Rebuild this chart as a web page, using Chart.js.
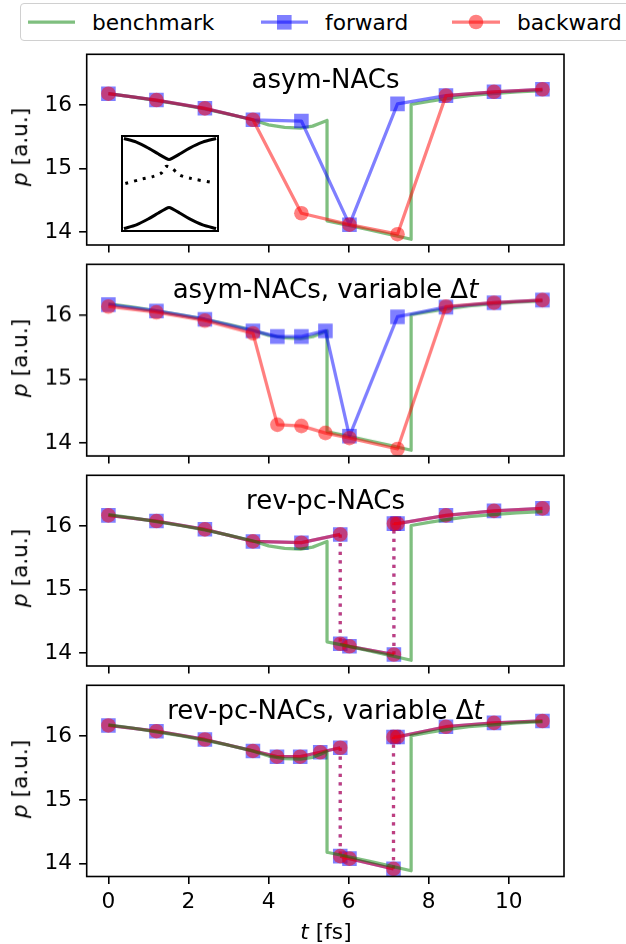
<!DOCTYPE html>
<html>
<head>
<meta charset="utf-8">
<script src="https://cdn.jsdelivr.net/npm/chart.js@4.4.0/dist/chart.umd.min.js"></script>
<style>
  body { margin: 0; width: 626px; height: 944px; overflow: hidden; background: #fff; position: relative; font-family: "DejaVu Sans", sans-serif; }
  canvas { position: absolute; }
  .txt { position: absolute; white-space: nowrap; line-height: 1; color: #000; }
  .title { font-size: 26px; width: 477px; left: 87px; text-align: center; }
  .ylab { font-size: 21.7px; transform: translate(-50%, -50%) rotate(-90deg); }
  #legend { position: absolute; left: 20px; top: 3px; width: 640px; height: 38px; box-sizing: border-box;
            border: 1.3px solid #d0d0d0; border-radius: 4px; background: rgba(255,255,255,0.8); }
</style>
</head>
<body>
<div id="legend">
  <svg width="640" height="38" style="position:absolute;left:0;top:0">
    <line x1="7" y1="18" x2="54" y2="18" stroke="rgba(0,128,0,0.5)" stroke-width="3.25"/>
    <line x1="240" y1="18" x2="287" y2="18" stroke="rgba(0,0,255,0.5)" stroke-width="3.25"/>
    <rect x="256" y="11" width="14.6" height="14.6" fill="rgba(0,0,255,0.5)"/>
    <line x1="431" y1="18" x2="479" y2="18" stroke="rgba(255,0,0,0.5)" stroke-width="3.25"/>
    <circle cx="455" cy="18" r="7.3" fill="rgba(255,0,0,0.5)"/>
  </svg>
  <div class="txt" style="font-size:21.7px;left:71px;top:8px">benchmark</div>
  <div class="txt" style="font-size:21.7px;left:304px;top:8px">forward</div>
  <div class="txt" style="font-size:21.7px;left:496px;top:8px">backward</div>
</div>

<script>
// benchmark trajectory (continuous)
const benchT = [0, 0.6, 1.2, 1.8, 2.4, 3.0, 3.6, 4.0, 4.4, 4.8, 5.1, 5.3, 5.46, 5.46, 6.0, 6.5, 7.0, 7.56, 7.56, 8.0, 8.4, 9.0, 9.6, 10.2, 10.84];
const benchP = [16.18, 16.13, 16.07, 16.01, 15.94, 15.86, 15.77, 15.69, 15.65, 15.64, 15.67, 15.72, 15.76, 14.18, 14.11, 14.04, 13.97, 13.89, 16.01, 16.06, 16.10, 16.15, 16.18, 16.21, 16.23];

// asym-NACs
const fwdT1 = [0, 1.2, 2.41, 3.61, 4.82, 6.02, 7.22, 8.43, 9.63, 10.84];
const fwdP1 = [16.18, 16.08, 15.95, 15.77, 15.75, 14.12, 16.02, 16.15, 16.21, 16.25];
const bwdT1 = [0, 1.2, 2.41, 3.61, 4.82, 6.02, 7.22, 8.43, 9.63, 10.84];
const bwdP1 = [16.18, 16.08, 15.95, 15.77, 14.30, 14.12, 13.97, 16.15, 16.21, 16.25];

// asym-NACs, variable dt
const fwdT2 = [0, 1.2, 2.41, 3.61, 4.22, 4.82, 5.42, 6.02, 7.22, 8.43, 9.63, 10.84];
const fwdP2 = [16.17, 16.07, 15.94, 15.76, 15.67, 15.67, 15.76, 14.11, 15.98, 16.13, 16.20, 16.24];
const bwdT2 = [0, 1.2, 2.41, 3.61, 4.22, 4.82, 5.42, 6.02, 7.22, 8.43, 9.63, 10.84];
const bwdP2 = [16.14, 16.05, 15.92, 15.72, 14.29, 14.27, 14.16, 14.08, 13.91, 16.14, 16.20, 16.24];

// rev-pc-NACs (a hop = two entries with the same t)
const fwdT3 = [0, 1.2, 2.41, 3.61, 4.82, 5.79, 5.79, 6.02, 7.13, 7.13, 7.22, 8.43, 9.63, 10.84];
const fwdP3 = [16.17, 16.08, 15.95, 15.76, 15.74, 15.87, 14.15, 14.11, 13.98, 16.04, 16.04, 16.17, 16.24, 16.28];
const bwdT3 = [0, 1.2, 2.41, 3.61, 4.82, 5.79, 5.79, 6.02, 7.13, 7.13, 7.22, 8.43, 9.63, 10.84];
const bwdP3 = [16.17, 16.08, 15.95, 15.76, 15.74, 15.87, 14.15, 14.11, 13.98, 16.04, 16.04, 16.17, 16.24, 16.28];

// rev-pc-NACs, variable dt
const fwdT4 = [0, 1.2, 2.41, 3.61, 4.21, 4.79, 5.29, 5.79, 5.79, 6.02, 7.12, 7.12, 7.22, 8.43, 9.63, 10.84];
const fwdP4 = [16.17, 16.08, 15.95, 15.77, 15.68, 15.68, 15.75, 15.82, 14.12, 14.08, 13.92, 15.99, 15.99, 16.15, 16.21, 16.24];
const bwdT4 = [0, 1.2, 2.41, 3.61, 4.21, 4.79, 5.29, 5.79, 5.79, 6.02, 7.12, 7.12, 7.22, 8.43, 9.63, 10.84];
const bwdP4 = [16.17, 16.08, 15.95, 15.77, 15.68, 15.68, 15.75, 15.82, 14.12, 14.08, 13.92, 15.99, 15.99, 16.15, 16.21, 16.24];

const panelTitles = ["asym-NACs", "asym-NACs, variable Δ<i>t</i>", "rev-pc-NACs", "rev-pc-NACs, variable Δ<i>t</i>"];
const xTicks = [0, 2, 4, 6, 8, 10];
const yTicks = [14, 15, 16];

// inset sketch (box coords 0..1)
const insetX = [0.02, 0.15, 0.28, 0.38, 0.45, 0.49, 0.53, 0.6, 0.7, 0.84, 0.98];
const insetUpper = [0.974, 0.935, 0.87, 0.81, 0.77, 0.752, 0.77, 0.81, 0.87, 0.935, 0.974];
const insetLower = [0.026, 0.065, 0.13, 0.19, 0.23, 0.248, 0.23, 0.19, 0.13, 0.065, 0.026];
const insetDotX = [0.035, 0.21, 0.32, 0.41, 0.46, 0.52, 0.6, 0.71, 0.94];
const insetDotY = [0.5, 0.547, 0.573, 0.61, 0.68, 0.66, 0.59, 0.555, 0.51];

const frameTops = [53.5, 264, 474.5, 685];
const frameH = 191.5, frameL = 86.7, frameR = 564, PAD = 10;
const FONT = "DejaVu Sans";
const GREEN = "rgba(0,128,0,0.5)", BLUE = "rgba(0,0,255,0.5)", RED = "rgba(255,0,0,0.5)";

const pts = (xs, ys) => xs.map((x, i) => ({ x: x, y: ys[i] }));

// vertical hop segments, taken from repeated t values
function hopPairs(ts, ps) {
  const out = [];
  for (let i = 0; i + 1 < ts.length; i++) {
    if (ts[i] === ts[i + 1]) out.push([{ x: ts[i], y: ps[i] }, { x: ts[i + 1], y: ps[i + 1] }]);
  }
  return out;
}

const framePlugin = {
  id: "frame",
  afterDatasetsDraw(chart, args, opts) {
    const a = chart.chartArea, ctx = chart.ctx;
    ctx.save();
    ctx.strokeStyle = "#000";
    ctx.lineWidth = opts.width || 1.6;
    ctx.strokeRect(a.left, a.top, a.right - a.left, a.bottom - a.top);
    ctx.restore();
  }
};

function addCanvas(left, top, w, h) {
  const c = document.createElement("canvas");
  c.width = w; c.height = h;
  c.style.left = left + "px"; c.style.top = top + "px";
  c.style.width = w + "px"; c.style.height = h + "px";
  document.body.appendChild(c);
  return c;
}

function addText(html, cls, style) {
  const d = document.createElement("div");
  d.className = "txt " + cls;
  d.innerHTML = html;
  Object.assign(d.style, style);
  document.body.appendChild(d);
}

// hide the hop part of the main line, hops get their own dotted datasets
const hideHop = ctx => ctx.p0.parsed.x === ctx.p1.parsed.x ? "rgba(0,0,0,0)" : undefined;

function makePanel(i, fT, fP, bT, bP) {
  const bottom = i === 3;
  const benchOnTop = i >= 2;
  const top = frameTops[i] - PAD;
  const h = bottom ? 944 - top : PAD + frameH + 12;
  const xAxisH = h - PAD - frameH;
  const canvas = addCanvas(0, top, 626, h);

  const datasets = [
    { label: "benchmark", data: pts(benchT, benchP), borderColor: GREEN,
      borderWidth: 3.25, pointRadius: 0, order: benchOnTop ? 0 : 3 },
    { label: "forward", data: pts(fT, fP), borderColor: BLUE, backgroundColor: BLUE,
      borderWidth: 3.25, pointStyle: "rect", pointRadius: 10.3, pointBorderWidth: 0,
      segment: { borderColor: hideHop }, order: 2 },
    { label: "backward", data: pts(bT, bP), borderColor: RED, backgroundColor: RED,
      borderWidth: 3.25, pointStyle: "circle", pointRadius: 7.3, pointBorderWidth: 0,
      segment: { borderColor: hideHop }, order: 1 }
  ];
  hopPairs(fT, fP).forEach(d => datasets.push({ data: d, borderColor: BLUE, borderWidth: 3.25,
    borderDash: [3.25, 5.4], pointRadius: 0, order: 2 }));
  hopPairs(bT, bP).forEach(d => datasets.push({ data: d, borderColor: RED, borderWidth: 3.25,
    borderDash: [3.25, 5.4], pointRadius: 0, order: 1 }));

  new Chart(canvas, {
    type: "line",
    data: { datasets: datasets },
    options: {
      responsive: false, animation: false, devicePixelRatio: 1,
      layout: { padding: { top: PAD, right: 626 - frameR, left: 0, bottom: 0 } },
      plugins: { legend: { display: false }, tooltip: { enabled: false }, frame: { width: 1.6 } },
      elements: { line: { tension: 0, borderJoinStyle: "round" } },
      scales: {
        x: {
          type: "linear", min: -0.542, max: 11.378,
          afterBuildTicks: s => { s.ticks = xTicks.map(v => ({ value: v })); },
          afterFit: s => { s.height = xAxisH; s.paddingLeft = 0; s.paddingRight = 0; },
          grid: { drawOnChartArea: false, drawTicks: true, tickLength: 7.6, lineWidth: 1.6, tickWidth: 1.6, tickColor: "#000", color: "#000" },
          border: { display: false },
          ticks: { display: bottom, color: "#000", font: { family: FONT, size: 21.7 }, padding: 5, maxRotation: 0, autoSkip: false }
        },
        y: {
          type: "linear", min: 13.8, max: 16.8,
          afterBuildTicks: s => { s.ticks = yTicks.map(v => ({ value: v })); },
          afterFit: s => { s.width = frameL; s.paddingTop = 0; s.paddingBottom = 0; },
          grid: { drawOnChartArea: false, drawTicks: true, tickLength: 7.6, lineWidth: 1.6, tickWidth: 1.6, tickColor: "#000", color: "#000" },
          border: { display: false },
          ticks: { color: "#000", font: { family: FONT, size: 21.7 }, padding: 7 }
        }
      }
    },
    plugins: [framePlugin]
  });

  addText(panelTitles[i], "title", { top: (frameTops[i] + 12) + "px" });
  addText("<i>p</i> [a.u.]", "ylab", { left: "20px", top: (frameTops[i] + frameH / 2 - 2) + "px" });
}

makePanel(0, fwdT1, fwdP1, bwdT1, bwdP1);
makePanel(1, fwdT2, fwdP2, bwdT2, bwdP2);
makePanel(2, fwdT3, fwdP3, bwdT3, bwdP3);
makePanel(3, fwdT4, fwdP4, bwdT4, bwdP4);

addText("<i>t</i> [fs]", "", { fontSize: "21.7px", left: "326px", top: "932px", transform: "translate(-50%, -50%)" });

// inset with the avoided-crossing sketch
const insetCanvas = addCanvas(120, 134, 100, 99);
new Chart(insetCanvas, {
  type: "line",
  data: {
    datasets: [
      { data: pts(insetX, insetUpper), borderColor: "#000", borderWidth: 3, pointRadius: 0 },
      { data: pts(insetX, insetLower), borderColor: "#000", borderWidth: 3, pointRadius: 0 },
      { data: pts(insetDotX, insetDotY), borderColor: "#000", borderWidth: 3, pointRadius: 0, borderDash: [3, 6] }
    ]
  },
  options: {
    responsive: false, animation: false, devicePixelRatio: 1,
    layout: { padding: 2 },
    plugins: { legend: { display: false }, tooltip: { enabled: false }, frame: { width: 2 } },
    elements: { line: { tension: 0.3 } },
    scales: {
      x: { type: "linear", display: false, min: 0, max: 1 },
      y: { type: "linear", display: false, min: 0, max: 1 }
    }
  },
  plugins: [{
    id: "insetBg",
    beforeDatasetsDraw(chart) {
      const a = chart.chartArea;
      chart.ctx.save();
      chart.ctx.fillStyle = "#fff";
      chart.ctx.fillRect(a.left, a.top, a.right - a.left, a.bottom - a.top);
      chart.ctx.restore();
    }
  }, framePlugin]
});
</script>
</body>
</html>
